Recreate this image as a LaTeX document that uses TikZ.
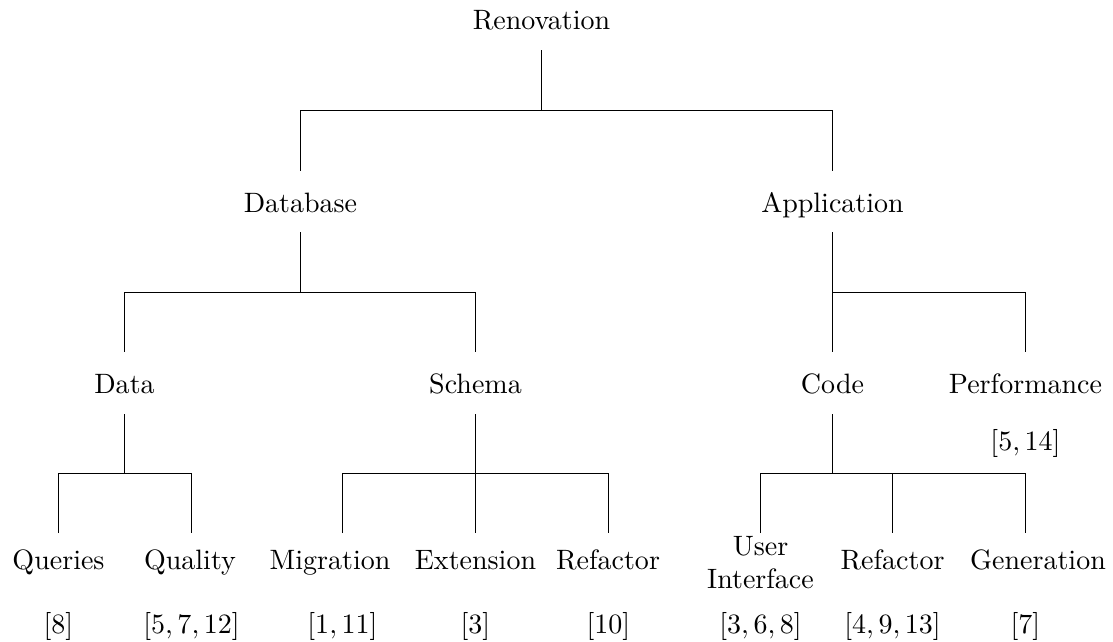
\documentclass[tikz,border=0pt]{standalone}
\begin{document}
\begin{tikzpicture}[x=0.357pt,y=-0.357pt,
  lbl/.style={inner sep=0pt,anchor=base},
  twoline/.style={inner sep=0pt,align=center,anchor=center},
  conn/.style={draw=black,line width=0.4pt}]
\useasboundingbox (0,0) rectangle (1113,641);
% level 0 and 1
\node[lbl] (ren) at (541.5,29) {Renovation};
\node[lbl] (db) at (300.5,212) {Database};
\node[lbl] (app) at (832.5,212) {Application};
% level 2
\node[lbl] (data) at (124.5,393) {Data};
\node[lbl] (schema) at (475.5,393) {Schema};
\node[lbl] (code) at (832.5,393) {Code};
\node[lbl] (perf) at (1025.5,393) {Performance};
\node[lbl] (cperf) at (1025.5,450) {$[5,14]$};
% leaves
\node[lbl] (q) at (58.5,569) {Queries};
\node[lbl] (qual) at (190,569) {Quality};
\node[lbl] (mig) at (330,569) {Migration};
\node[lbl] (ext) at (475.5,569) {Extension};
\node[lbl] (sref) at (608,569) {Refactor};
\node[twoline] (ui) at (760.5,562.5) {User\\Interface};
\node[lbl] (cref) at (892.5,569) {Refactor};
\node[lbl] (gen) at (1038,569) {Generation};
% citations
\node[lbl] (cq) at (58.5,633) {$[8]$};
\node[lbl] (cqual) at (191.5,633) {$[5,7,12]$};
\node[lbl] (cmig) at (342.5,633) {$[1,11]$};
\node[lbl] (cext) at (475.5,633) {$[3]$};
\node[lbl] (csref) at (608.5,633) {$[10]$};
\node[lbl] (cui) at (760.5,633) {$[3,6,8]$};
\node[lbl] (ccref) at (892.5,633) {$[4,9,13]$};
\node[lbl] (cgen) at (1025.5,633) {$[7]$};
% connectors
\draw[conn] (ren |- 0,50) -- (ren |- 0,110.5) -| (db |- 0,171);
\draw[conn] (ren |- 0,110.5) -| (app |- 0,171);
\draw[conn] (db |- 0,232) -- (db |- 0,292.5) -| (data |- 0,352);
\draw[conn] (db |- 0,292.5) -| (schema |- 0,352);
\draw[conn] (app |- 0,232) -- (code |- 0,352);
\draw[conn] (app |- 0,292.5) -| (perf |- 0,352);
\draw[conn] (data |- 0,414) -- (data |- 0,473.5);
\draw[conn] (cq |- 0,533) |- (cqual |- 0,473.5) -- (cqual |- 0,533);
\draw[conn] (schema |- 0,414) -- (ext |- 0,533);
\draw[conn] (cmig |- 0,533) |- (csref |- 0,473.5) -- (csref |- 0,533);
\draw[conn] (code |- 0,414) -- (code |- 0,473.5);
\draw[conn] (ui |- 0,533) |- (cgen |- 0,473.5) -- (cgen |- 0,533);
\draw[conn] (cref |- 0,473.5) -- (cref |- 0,533);
\end{tikzpicture}
\end{document}
